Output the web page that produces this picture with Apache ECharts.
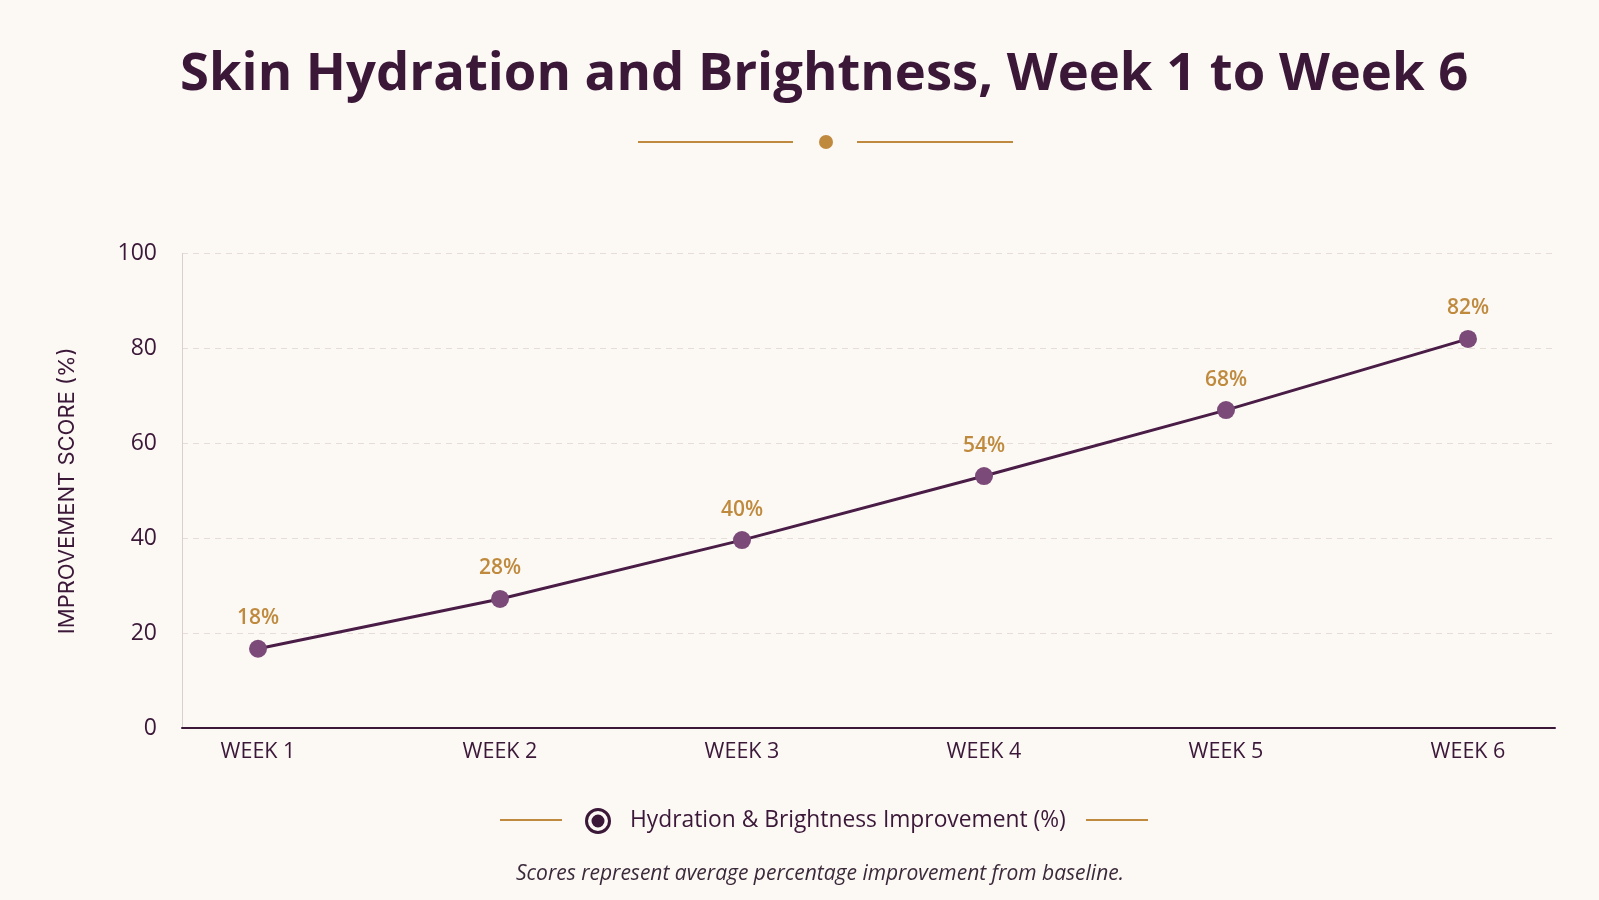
<!DOCTYPE html>
<html>
<head>
<meta charset="utf-8">
<script src="https://cdn.jsdelivr.net/npm/echarts@6/dist/echarts.min.js"></script>
<style>
  html, body { margin: 0; padding: 0; background: #fcf9f5; }
  #chart { width: 1599px; height: 900px; }
</style>
</head>
<body>
<div id="chart"></div>
<script>
const categories = ['WEEK 1', 'WEEK 2', 'WEEK 3', 'WEEK 4', 'WEEK 5', 'WEEK 6'];
const improvementValues = [16.7, 27.2, 39.6, 53.1, 67.0, 82.0];
const pointLabels = ['18%', '28%', '40%', '54%', '68%', '82%'];
const yTicks = [0, 20, 40, 60, 80, 100];
const seriesName = 'Hydration & Brightness Improvement (%)';

const PLUM = '#3b1838';
const GOLD = '#c08a3e';
const FONT = '"Open Sans", Lato, sans-serif';
const FONT2 = 'Inter, "Open Sans", sans-serif';

const ringIcon = 'path://M0,-13A13,13 0 1,1 0,13A13,13 0 1,1 0,-13Z' +
  'M0,-10A10,10 0 1,0 0,10A10,10 0 1,0 0,-10Z' +
  'M0,-6.5A6.5,6.5 0 1,1 0,6.5A6.5,6.5 0 1,1 0,-6.5Z';

const chart = echarts.init(document.getElementById('chart'));
chart.setOption({
  backgroundColor: '#fcf9f5',
  animation: false,
  title: {
    text: 'Skin Hydration and Brightness, Week 1 to Week 6',
    left: 175,
    top: 44,
    textStyle: { fontFamily: FONT, fontSize: 52.6, fontWeight: 'bold', color: PLUM }
  },
  legend: {
    data: [seriesName],
    left: 580,
    top: 803,
    icon: ringIcon,
    itemWidth: 26,
    itemHeight: 26,
    itemGap: 10,
    textStyle: { fontFamily: FONT, fontSize: 22.8, color: PLUM, padding: [0, 0, 0, 14] },
    itemStyle: { color: PLUM, borderWidth: 0 }
  },
  grid: [
    { left: 182, right: 44, top: 253.5, bottom: 172 },
    { left: 258, right: 131, top: 253.5, bottom: 172 }
  ],
  xAxis: [
    {
      gridIndex: 0, type: 'value', min: 0, max: 1,
      axisLine: { show: true, lineStyle: { color: PLUM, width: 2 } },
      axisTick: { show: false }, axisLabel: { show: false }, splitLine: { show: false }
    },
    {
      gridIndex: 1, type: 'category', data: categories, boundaryGap: false,
      axisLine: { show: false }, axisTick: { show: false },
      axisLabel: { fontFamily: FONT, fontSize: 21.5, color: PLUM, margin: 13 }
    }
  ],
  yAxis: [
    {
      gridIndex: 0, type: 'value', min: yTicks[0], max: yTicks[yTicks.length - 1], interval: 20,
      name: 'IMPROVEMENT SCORE (%)', nameLocation: 'middle', nameGap: 104, nameRotate: 90,
      nameTextStyle: { fontFamily: FONT2, fontSize: 22, color: PLUM },
      axisLine: { show: true, lineStyle: { color: '#d9cfcf', width: 1 } },
      axisTick: { show: false },
      axisLabel: { fontFamily: FONT, fontSize: 23, color: PLUM, margin: 25 },
      splitLine: { show: true, lineStyle: { color: '#e6dcd8', type: [6, 5], width: 1 } }
    },
    {
      gridIndex: 1, type: 'value', min: 0, max: 100, show: false
    }
  ],
  series: [{
    name: seriesName,
    type: 'line',
    xAxisIndex: 1,
    yAxisIndex: 1,
    data: improvementValues,
    symbol: 'circle',
    symbolSize: 18,
    lineStyle: { color: '#4a1d47', width: 3 },
    itemStyle: { color: '#7b4a78', borderWidth: 0 },
    label: {
      show: true, position: 'top', distance: 11,
      fontFamily: FONT, fontSize: 21, fontWeight: 600, color: GOLD,
      formatter: p => pointLabels[p.dataIndex]
    },
    z: 5
  }],
  graphic: [
    { type: 'line', shape: { x1: 638, y1: 142, x2: 793, y2: 142 }, style: { stroke: GOLD, lineWidth: 2 } },
    { type: 'circle', shape: { cx: 826, cy: 142, r: 7 }, style: { fill: GOLD } },
    { type: 'line', shape: { x1: 857, y1: 142, x2: 1013, y2: 142 }, style: { stroke: GOLD, lineWidth: 2 } },
    { type: 'line', shape: { x1: 500, y1: 820, x2: 562, y2: 820 }, style: { stroke: GOLD, lineWidth: 2 } },
    { type: 'line', shape: { x1: 1086, y1: 820, x2: 1148, y2: 820 }, style: { stroke: GOLD, lineWidth: 2 } },
    {
      type: 'text', x: 820, y: 874,
      style: {
        text: 'Scores represent average percentage improvement from baseline.',
        fontFamily: FONT, fontSize: 21, fontStyle: 'italic', fill: '#3b2a3a',
        align: 'center', verticalAlign: 'middle'
      }
    }
  ]
});
</script>
</body>
</html>
